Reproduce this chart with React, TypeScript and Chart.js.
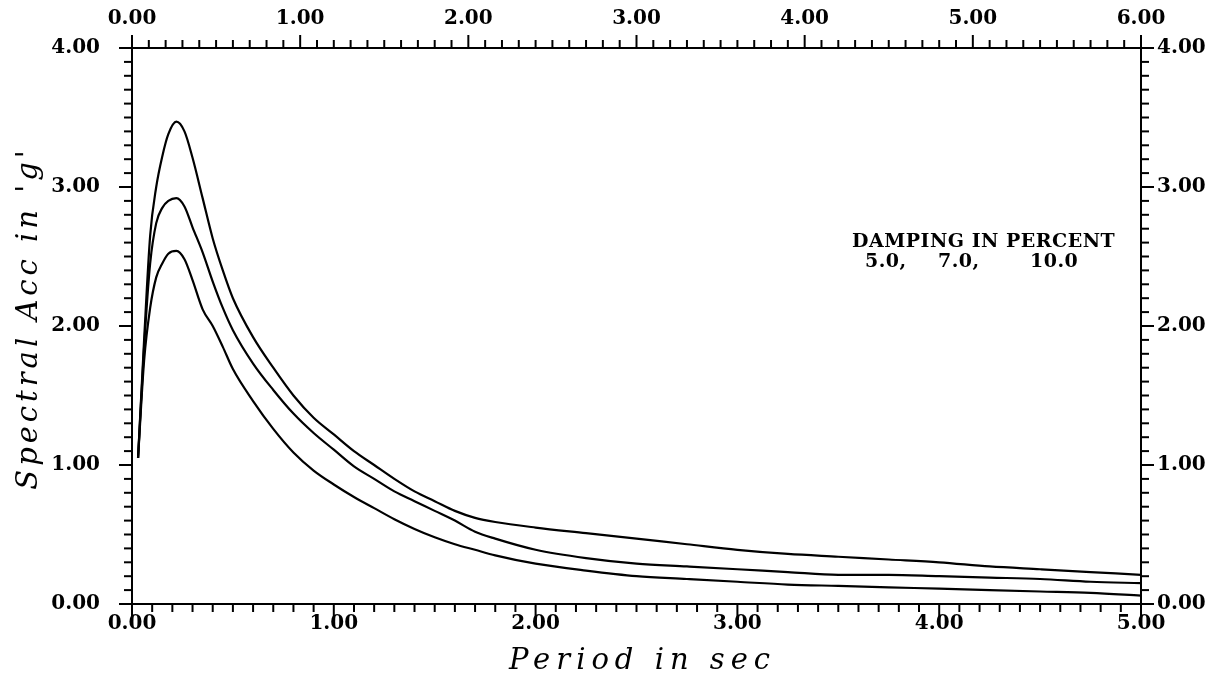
import React, { useEffect, useRef } from 'react';
import { Chart, registerables } from 'chart.js';

Chart.register(...registerables);

// ---- data ----
const periods = [0.03, 0.06, 0.09, 0.12, 0.15, 0.18, 0.22, 0.26, 0.30, 0.35, 0.40, 0.45, 0.50, 0.60, 0.70, 0.80, 0.90, 1.00, 1.10, 1.20, 1.30, 1.40, 1.50, 1.60, 1.70, 1.80, 2.00, 2.25, 2.50, 2.75, 3.00, 3.25, 3.50, 3.75, 4.00, 4.25, 4.50, 4.75, 5.00];
const sa5 = [1.05, 1.90, 2.65, 3.00, 3.22, 3.38, 3.47, 3.40, 3.21, 2.92, 2.63, 2.40, 2.20, 1.92, 1.70, 1.50, 1.34, 1.22, 1.10, 1.00, 0.90, 0.81, 0.74, 0.67, 0.62, 0.59, 0.55, 0.51, 0.47, 0.43, 0.39, 0.36, 0.34, 0.32, 0.30, 0.27, 0.25, 0.23, 0.21];
const sa7 = [1.05, 1.85, 2.45, 2.74, 2.85, 2.90, 2.92, 2.86, 2.71, 2.53, 2.32, 2.13, 1.97, 1.73, 1.54, 1.37, 1.23, 1.11, 0.99, 0.90, 0.81, 0.74, 0.67, 0.60, 0.52, 0.47, 0.39, 0.33, 0.29, 0.27, 0.25, 0.23, 0.21, 0.21, 0.20, 0.19, 0.18, 0.16, 0.15];
const sa10 = [1.05, 1.75, 2.13, 2.35, 2.45, 2.52, 2.54, 2.48, 2.33, 2.12, 2.00, 1.85, 1.69, 1.46, 1.26, 1.09, 0.96, 0.86, 0.77, 0.69, 0.61, 0.54, 0.48, 0.43, 0.39, 0.35, 0.29, 0.24, 0.20, 0.18, 0.16, 0.14, 0.13, 0.12, 0.11, 0.10, 0.09, 0.08, 0.06];

const bottomRange = [0, 5];
const topRange = [0, 6];
const accRange = [0, 4];
const tickStep = 0.1;

const xTitle = 'Period in sec';
const yTitle = "Spectral Acc in 'g'";
const legendTitle = 'DAMPING IN PERCENT';
const dampingLabels = ['5.0,', '7.0,', '10.0'];

const SERIF = "'DejaVu Serif', 'Liberation Serif', serif";

const isMajor = (v: number) => Math.abs(v - Math.round(v)) < 1e-6;

const tickFont = { family: SERIF, size: 20, weight: 'bold' as const };

const tickCb = (v: any) => {
  const n = Number(v);
  return isMajor(n) ? n.toFixed(2) : '';
};

const decorPlugin = {
  id: 'decor',
  afterDraw(chart: any) {
    const ctx = chart.ctx as CanvasRenderingContext2D;
    const a = chart.chartArea;
    ctx.save();
    ctx.strokeStyle = '#000';
    ctx.lineWidth = 2;
    for (const id of ['x', 'x2', 'y', 'y2']) {
      const s = chart.scales[id];
      for (const t of s.ticks) {
        const major = isMajor(t.value);
        const len = major ? 13 : 8;
        const p = s.getPixelForValue(t.value);
        ctx.beginPath();
        if (id === 'x') { ctx.moveTo(p, a.bottom); ctx.lineTo(p, a.bottom + len); }
        if (id === 'x2') { ctx.moveTo(p, a.top); ctx.lineTo(p, a.top - len); }
        if (id === 'y') { ctx.moveTo(a.left, p); ctx.lineTo(a.left - len, p); }
        if (id === 'y2') { ctx.moveTo(a.right, p); ctx.lineTo(a.right + len, p); }
        ctx.stroke();
      }
    }
    ctx.fillStyle = '#000';
    // axis titles
    const c: any = ctx;
    c.letterSpacing = '6px';
    ctx.font = `italic 29px ${SERIF}`;
    ctx.textAlign = 'center';
    ctx.textBaseline = 'alphabetic';
    ctx.fillText(xTitle, (a.left + a.right) / 2 + 6, 669);
    ctx.save();
    ctx.translate(37, (a.top + a.bottom) / 2 - 8);
    ctx.rotate(-Math.PI / 2);
    c.letterSpacing = '4px';
    ctx.fillText(yTitle, 0, 0);
    ctx.restore();
    // damping legend text
    c.letterSpacing = '0.5px';
    ctx.font = `bold 19px ${SERIF}`;
    ctx.textAlign = 'left';
    ctx.fillText(legendTitle, 852, 247);
    const xs = [865, 938, 1030];
    dampingLabels.forEach((t, i) => ctx.fillText(t, xs[i], 267));
    c.letterSpacing = '0px';
    ctx.restore();
  },
};

export default function App() {
  const ref = useRef<HTMLCanvasElement | null>(null);
  useEffect(() => {
    if (!ref.current) return;
    const mk = (vals: number[]) => periods.map((p, i) => ({ x: p, y: vals[i] }));
    const ds = (label: string, vals: number[]) => ({
      label,
      data: mk(vals),
      borderColor: '#000',
      borderWidth: 2.2,
      pointRadius: 0,
      fill: false,
      cubicInterpolationMode: 'monotone' as const,
      xAxisID: 'x',
      yAxisID: 'y',
    });
    const border = { display: true, color: '#000', width: 2 };
    const grid = { display: false, drawTicks: false };
    const chart = new Chart(ref.current, {
      type: 'line',
      data: {
        datasets: [ds('5.0', sa5), ds('7.0', sa7), ds('10.0', sa10)],
      },
      plugins: [decorPlugin],
      options: {
        animation: false,
        responsive: false,
        layout: { padding: 0 },
        plugins: { legend: { display: false }, tooltip: { enabled: false } },
        scales: {
          x: {
            type: 'linear', position: 'bottom', min: bottomRange[0], max: bottomRange[1],
            grid, border,
            ticks: { stepSize: tickStep, autoSkip: false, maxRotation: 0, minRotation: 0, padding: 8, color: '#000', font: tickFont, callback: tickCb },
            afterFit: (s: any) => { s.height = 77; },
          },
          x2: {
            type: 'linear', position: 'top', min: topRange[0], max: topRange[1],
            grid, border,
            ticks: { stepSize: tickStep, autoSkip: false, maxRotation: 0, minRotation: 0, padding: 17, color: '#000', font: tickFont, callback: tickCb },
            afterFit: (s: any) => { s.height = 48; },
          },
          y: {
            type: 'linear', position: 'left', min: accRange[0], max: accRange[1],
            grid, border,
            ticks: { stepSize: tickStep, autoSkip: false, padding: 32, color: '#000', font: tickFont, callback: tickCb },
            afterFit: (s: any) => { s.width = 132; },
          },
          y2: {
            type: 'linear', position: 'right', min: accRange[0], max: accRange[1],
            grid, border,
            ticks: { stepSize: tickStep, autoSkip: false, padding: 16, color: '#000', font: tickFont, callback: tickCb },
            afterFit: (s: any) => { s.width = 81; },
          },
        },
      },
    } as any);
    return () => chart.destroy();
  }, []);
  return (
    <canvas
      ref={ref}
      width={1222}
      height={681}
      style={{ position: 'absolute', left: 0, top: 0, width: 1222, height: 681, background: '#fff' }}
    />
  );
}
